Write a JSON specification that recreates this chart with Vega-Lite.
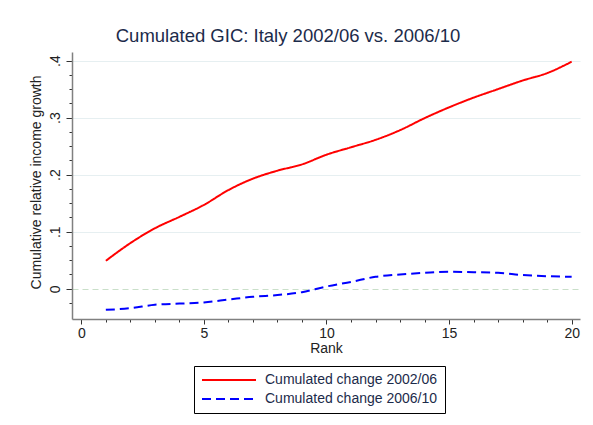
{
  "$schema": "https://vega.github.io/schema/vega-lite/v6.json",
  "autosize": "none",
  "width": 508,
  "height": 267,
  "padding": {"left": 72, "top": 52, "right": 13, "bottom": 106},
  "background": "white",
  "config": {
    "font": "Liberation Sans",
    "view": {"stroke": null}
  },
  "title": {
    "text": "Cumulated GIC: Italy 2002/06 vs. 2006/10",
    "fontSize": 18.5,
    "fontWeight": "normal",
    "color": "#1c2b4a",
    "anchor": "middle",
    "baseline": "alphabetic",
    "offset": 9,
    "dy": 17,
    "dx": -38
  },
  "data": {
    "values": [
      {"rank": 1, "value": 0.049, "series": "Cumulated change 2002/06"},
      {"rank": 2, "value": 0.080, "series": "Cumulated change 2002/06"},
      {"rank": 3, "value": 0.106, "series": "Cumulated change 2002/06"},
      {"rank": 4, "value": 0.126, "series": "Cumulated change 2002/06"},
      {"rank": 5, "value": 0.147, "series": "Cumulated change 2002/06"},
      {"rank": 6, "value": 0.173, "series": "Cumulated change 2002/06"},
      {"rank": 7, "value": 0.193, "series": "Cumulated change 2002/06"},
      {"rank": 8, "value": 0.207, "series": "Cumulated change 2002/06"},
      {"rank": 9, "value": 0.218, "series": "Cumulated change 2002/06"},
      {"rank": 10, "value": 0.235, "series": "Cumulated change 2002/06"},
      {"rank": 11, "value": 0.248, "series": "Cumulated change 2002/06"},
      {"rank": 12, "value": 0.261, "series": "Cumulated change 2002/06"},
      {"rank": 13, "value": 0.278, "series": "Cumulated change 2002/06"},
      {"rank": 14, "value": 0.299, "series": "Cumulated change 2002/06"},
      {"rank": 15, "value": 0.318, "series": "Cumulated change 2002/06"},
      {"rank": 16, "value": 0.335, "series": "Cumulated change 2002/06"},
      {"rank": 17, "value": 0.350, "series": "Cumulated change 2002/06"},
      {"rank": 18, "value": 0.365, "series": "Cumulated change 2002/06"},
      {"rank": 19, "value": 0.378, "series": "Cumulated change 2002/06"},
      {"rank": 20, "value": 0.398, "series": "Cumulated change 2002/06"},
      {"rank": 1, "value": -0.037, "series": "Cumulated change 2006/10"},
      {"rank": 2, "value": -0.034, "series": "Cumulated change 2006/10"},
      {"rank": 3, "value": -0.028, "series": "Cumulated change 2006/10"},
      {"rank": 4, "value": -0.026, "series": "Cumulated change 2006/10"},
      {"rank": 5, "value": -0.024, "series": "Cumulated change 2006/10"},
      {"rank": 6, "value": -0.019, "series": "Cumulated change 2006/10"},
      {"rank": 7, "value": -0.014, "series": "Cumulated change 2006/10"},
      {"rank": 8, "value": -0.011, "series": "Cumulated change 2006/10"},
      {"rank": 9, "value": -0.006, "series": "Cumulated change 2006/10"},
      {"rank": 10, "value": 0.004, "series": "Cumulated change 2006/10"},
      {"rank": 11, "value": 0.012, "series": "Cumulated change 2006/10"},
      {"rank": 12, "value": 0.021, "series": "Cumulated change 2006/10"},
      {"rank": 13, "value": 0.025, "series": "Cumulated change 2006/10"},
      {"rank": 14, "value": 0.028, "series": "Cumulated change 2006/10"},
      {"rank": 15, "value": 0.030, "series": "Cumulated change 2006/10"},
      {"rank": 16, "value": 0.029, "series": "Cumulated change 2006/10"},
      {"rank": 17, "value": 0.028, "series": "Cumulated change 2006/10"},
      {"rank": 18, "value": 0.024, "series": "Cumulated change 2006/10"},
      {"rank": 19, "value": 0.022, "series": "Cumulated change 2006/10"},
      {"rank": 20, "value": 0.021, "series": "Cumulated change 2006/10"}
    ]
  },
  "mark": {"type": "line", "strokeWidth": 2, "interpolate": "monotone"},
  "encoding": {
    "x": {
      "field": "rank",
      "type": "quantitative",
      "scale": {"domain": [-0.38, 20.34], "nice": false, "zero": false},
      "axis": {
        "title": "Rank",
        "titleFontSize": 14,
        "titleFontWeight": "normal",
        "titleColor": "#222222",
        "titlePadding": 1,
        "values": [0,1,2,3,4,5,6,7,8,9,10,11,12,13,14,15,16,17,18,19,20],
        "labelExpr": "datum.value % 5 === 0 ? datum.label : ''",
        "labelFontSize": 14,
        "labelColor": "#222222",
        "labelPadding": 2,
        "labelFlush": false,
        "tickSize": {"condition": {"test": "datum.value % 5 === 0", "value": 5}, "value": 3},
        "tickColor": "#333333",
        "domainColor": "#808080",
        "domainWidth": 1.5,
        "grid": false
      }
    },
    "y": {
      "field": "value",
      "type": "quantitative",
      "scale": {"domain": [-0.053, 0.415], "nice": false, "zero": false},
      "axis": {
        "title": "Cumulative relative income growth",
        "titleFontSize": 14,
        "titleFontWeight": "normal",
        "titleColor": "#222222",
        "titleAngle": -90,
        "titleAlign": "center",
        "titleX": -29,
        "titleY": 130,
        "titleBaseline": "bottom",
        "values": [-0.025, 0, 0.025, 0.05, 0.075, 0.1, 0.125, 0.15, 0.175, 0.2, 0.225, 0.25, 0.275, 0.3, 0.325, 0.35, 0.375, 0.4],
        "labelExpr": "datum.value === 0 ? '0' : (abs(datum.value * 10 - round(datum.value * 10)) < 0.001 ? replace(format(datum.value, '.1f'), '0.', '.') : '')",
        "labelAngle": -90,
        "labelAlign": "center",
        "labelBaseline": "bottom",
        "labelFontSize": 14,
        "labelColor": "#222222",
        "labelPadding": 4,
        "labelFlush": false,
        "tickSize": {"condition": {"test": "abs(datum.value * 10 - round(datum.value * 10)) < 0.001", "value": 6}, "value": 3},
        "tickColor": "#333333",
        "domainColor": "#808080",
        "domainWidth": 1.5,
        "grid": true,
        "gridColor": {"condition": {"test": "datum.value === 0", "value": "#c9dfc9"}, "value": "#e6eff1"},
        "gridDash": {"condition": {"test": "datum.value === 0", "value": [6, 4]}, "value": []},
        "gridOpacity": {"condition": {"test": "abs(datum.value * 10 - round(datum.value * 10)) < 0.001", "value": 1}, "value": 0},
        "gridWidth": 1.2
      }
    },
    "color": {
      "field": "series",
      "type": "nominal",
      "scale": {"domain": ["Cumulated change 2002/06", "Cumulated change 2006/10"], "range": ["#ff0000", "#0000ff"]},
      "legend": {
        "title": null,
        "orient": "none",
        "legendX": 122,
        "legendY": 314,
        "direction": "vertical",
        "strokeColor": "#000000",
        "fillColor": "#ffffff",
        "padding": 7,
        "rowPadding": 5,
        "symbolType": "M-1.2,0H9.6",
        "symbolSize": 100,
        "symbolStrokeWidth": 2,
        "labelOffset": 50,
        "labelFontSize": 14,
        "labelColor": "#1c2b4a",
        "labelLimit": 300,
        "labelExpr": "datum.label + '\u00a0\u00a0\u00a0\u00a0'"
      }
    },
    "strokeDash": {
      "field": "series",
      "type": "nominal",
      "scale": {"domain": ["Cumulated change 2002/06", "Cumulated change 2006/10"], "range": [[1, 0], [9, 5]]},
      "legend": {
        "title": null,
        "orient": "none",
        "legendX": 122,
        "legendY": 314,
        "direction": "vertical",
        "strokeColor": "#000000",
        "fillColor": "#ffffff",
        "padding": 7,
        "rowPadding": 5,
        "symbolType": "M-1.2,0H9.6",
        "symbolSize": 100,
        "symbolStrokeWidth": 2,
        "labelOffset": 50,
        "labelFontSize": 14,
        "labelColor": "#1c2b4a",
        "labelLimit": 300,
        "labelExpr": "datum.label + '\u00a0\u00a0\u00a0\u00a0'"
      }
    }
  }
}
